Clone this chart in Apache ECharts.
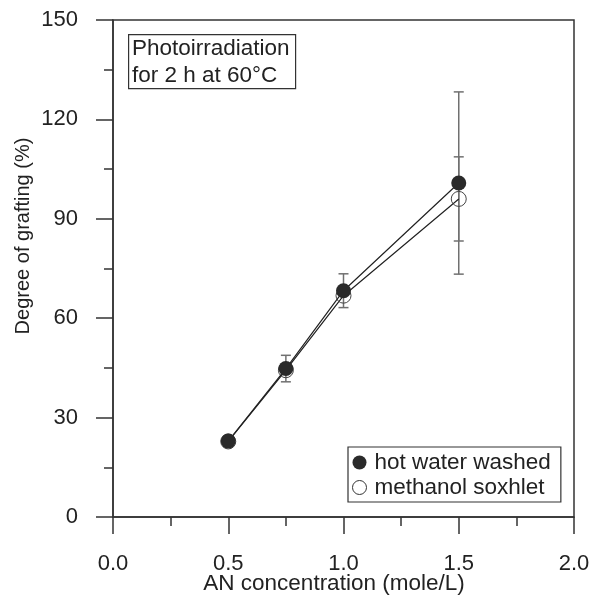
<!DOCTYPE html>
<html>
<head>
<meta charset="utf-8">
<script src="https://cdn.jsdelivr.net/npm/echarts@6/dist/echarts.min.js"></script>
<style>html,body{margin:0;padding:0;background:#fff;}#c{width:593px;height:599px;}</style>
</head>
<body>
<div id="c"></div>
<script>
const concentrations = [0.5, 0.75, 1.0, 1.5];
const hotWater = [22.9, 44.8, 68.3, 100.8];
const hotWaterErr = [0, 4.0, 5.1, 27.5];
const methanol = [22.8, 44.3, 66.8, 96.0];
const methanolErr = [0, 0, 0, 12.7];
const xTicks = [0.0, 0.5, 1.0, 1.5, 2.0];
const yTicks = [0, 30, 60, 90, 120, 150];
const seriesNames = ['hot water washed', 'methanol soxhlet'];
const xTitle = 'AN concentration (mole/L)';
const yTitle = 'Degree of grafting (%)';
const noteLines = ['Photoirradiation', 'for 2 h at 60\u00B0C'];

const FONT = 'Liberation Sans, Arial, sans-serif';
const chart = echarts.init(document.getElementById('c'));

function pairs(vals) { return concentrations.map((x, i) => [x, vals[i]]); }
function errData(vals, errs) {
  const out = [];
  concentrations.forEach((x, i) => { if (errs[i] > 0) out.push([x, vals[i] - errs[i], vals[i] + errs[i]]); });
  return out;
}
function errRender(params, api) {
  const x = api.value(0);
  const lo = api.coord([x, api.value(1)]);
  const hi = api.coord([x, api.value(2)]);
  const w = 5;
  const st = { stroke: '#707070', lineWidth: 1.5 };
  return {
    type: 'group',
    children: [
      { type: 'line', shape: { x1: lo[0], y1: lo[1], x2: hi[0], y2: hi[1] }, style: st },
      { type: 'line', shape: { x1: lo[0] - w, y1: lo[1], x2: lo[0] + w, y2: lo[1] }, style: st },
      { type: 'line', shape: { x1: hi[0] - w, y1: hi[1], x2: hi[0] + w, y2: hi[1] }, style: st }
    ]
  };
}

const axisCommon = {
  axisLine: { show: true, lineStyle: { color: '#333', width: 1.5 } },
  axisTick: { show: true, inside: false, length: 17, lineStyle: { color: '#333', width: 1.5 } },
  minorTick: { show: true, splitNumber: 2, length: 9, lineStyle: { color: '#333', width: 1.5 } },
  splitLine: { show: false },
  axisLabel: { color: '#222', fontSize: 22, fontFamily: FONT }
};

chart.setOption({
  animation: false,
  grid: { left: 113, right: 19, top: 20, bottom: 82, show: true, borderColor: '#333', borderWidth: 1.5, backgroundColor: 'transparent' },
  xAxis: Object.assign({}, axisCommon, {
    type: 'value', min: xTicks[0], max: xTicks[xTicks.length - 1], interval: 0.5,
    axisLabel: Object.assign({}, axisCommon.axisLabel, { margin: 36, formatter: v => v.toFixed(1) })
  }),
  yAxis: Object.assign({}, axisCommon, {
    type: 'value', min: yTicks[0], max: yTicks[yTicks.length - 1], interval: 30,
    axisLabel: Object.assign({}, axisCommon.axisLabel, { margin: 35 })
  }),
  legend: {
    orient: 'vertical', left: 348, top: 447,
    padding: [4, 10, 3, 4], itemGap: 2, itemWidth: 20, itemHeight: 14,
    borderColor: '#333', borderWidth: 1.2, backgroundColor: '#fff',
    textStyle: { fontSize: 22.5, fontFamily: FONT, color: '#222', lineHeight: 22 },
    data: [
      { name: seriesNames[0], icon: 'circle', itemStyle: { color: '#2a2a2a', borderWidth: 0 } },
      { name: seriesNames[1], icon: 'circle', itemStyle: { color: '#fff', borderColor: '#333', borderWidth: 1 } }
    ]
  },
  series: [
    { type: 'custom', name: 'err1', renderItem: errRender, data: errData(hotWater, hotWaterErr), z: 1, silent: true },
    { type: 'custom', name: 'err2', renderItem: errRender, data: errData(methanol, methanolErr), z: 1, silent: true },
    {
      type: 'line', name: seriesNames[1], data: pairs(methanol), z: 2,
      symbol: 'circle', symbolSize: 15,
      lineStyle: { color: '#222', width: 1.2 },
      itemStyle: { color: 'rgba(255,255,255,0)', borderColor: '#444', borderWidth: 1 }
    },
    {
      type: 'line', name: seriesNames[0], data: pairs(hotWater), z: 3,
      symbol: 'circle', symbolSize: 15,
      lineStyle: { color: '#222', width: 1.2 },
      itemStyle: { color: '#2a2a2a', borderWidth: 0 }
    }
  ],
  graphic: [
    { type: 'rect', left: 128, top: 34, shape: { width: 167, height: 54 }, style: { fill: '#fff', stroke: '#333', lineWidth: 1.2 }, z: 10 },
    { type: 'text', left: 132, top: 35, style: { text: noteLines.join('\n'), font: '22.5px ' + FONT, fill: '#222', lineHeight: 27 }, z: 11 },
    { type: 'text', x: 334, y: 584, style: { text: xTitle, font: '22.5px ' + FONT, fill: '#222', textAlign: 'center', textVerticalAlign: 'middle' } },
    { type: 'text', x: 23, y: 236, rotation: Math.PI / 2, style: { text: yTitle, font: '20px ' + FONT, fill: '#222', textAlign: 'center', textVerticalAlign: 'middle' } }
  ]
});
</script>
</body>
</html>
